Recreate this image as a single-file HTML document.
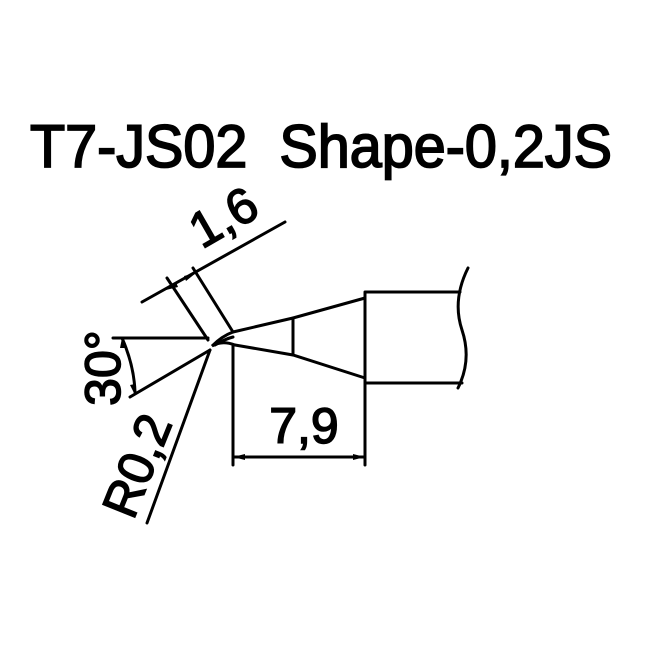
<!DOCTYPE html>
<html><head><style>html,body{margin:0;padding:0;background:#fff}svg{display:block}</style></head>
<body>
<svg width="650" height="650" viewBox="0 0 650 650" xmlns="http://www.w3.org/2000/svg">
<rect width="650" height="650" fill="#fff"/>
<text x="30" y="167" font-family="Liberation Sans, sans-serif" font-size="60" textLength="582" lengthAdjust="spacingAndGlyphs" fill="#000" stroke="#000" stroke-width="1.8">T7-JS02&#160;&#160;Shape-0,2JS</text>
<g stroke="#000" stroke-width="3" fill="none" stroke-linecap="round">
<path d="M365 292 V383 M365 292 H460 M365 383 H462"/>
<path d="M468 268 Q452 300 462 330 Q472 360 458 388"/>
<path d="M233 332 L293 318 L365 298"/>
<path d="M235 345 L293 355 L365 378"/>
<path d="M293 318 V355"/>
<path d="M233 332 Q222 336 212 346 Q222 340 235 345"/>
<path d="M215 345 Q225 339 233 337"/>
<path d="M233 345 V465 M365 383 V465 M233 457 H365"/>
<path d="M113 338 H208"/>
<path d="M130 397 L210 350"/>
<path d="M122 338 Q134 365 135 392"/>
<path d="M147 523 L210 350"/>
<path d="M142 302 L285 222"/>
<path d="M167 278 L208 340"/>
<path d="M193 268 L233 332"/>
</g>
<g fill="#000">
<path d="M233 457 l12 -3 v6 z M365 457 l-12 -3 v6 z"/>
<path d="M166 290 l10 -8 l2 5 z M196 273 l-10 8 l-2 -5 z"/>
<path d="M122 338 l-2 10 l5 0 z M134 393 l-4 -8 l5 -1 z"/>
</g>
<g font-family="Liberation Sans, sans-serif" font-size="50" fill="#000" stroke="#000" stroke-width="1.5">
<text x="304" y="443" text-anchor="middle">7,9</text>
<text transform="translate(232,232) rotate(-30)" text-anchor="middle">1,6</text>
<text transform="translate(120,368) rotate(-90)" text-anchor="middle">30°</text>
<text transform="translate(153,472) rotate(-68)" text-anchor="middle">R0,2</text>
</g>
</svg>
</body></html>
